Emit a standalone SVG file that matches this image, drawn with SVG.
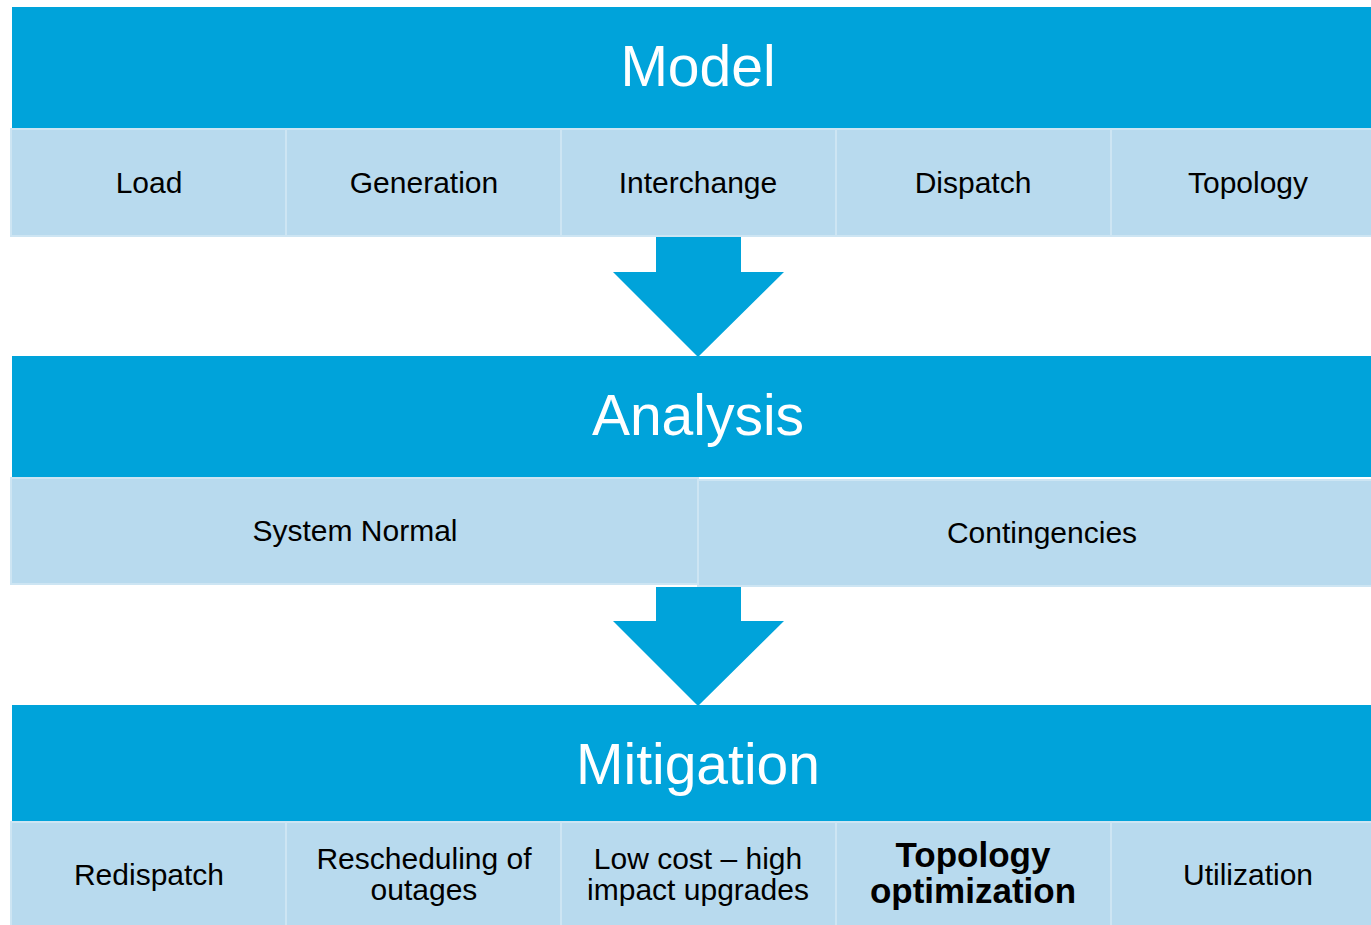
<svg xmlns="http://www.w3.org/2000/svg" width="1371" height="925" viewBox="0 0 1371 925">
<style>
.hdr{fill:#00A3DA}
.cell{fill:#B8DAEE;stroke:#CDE5F3;stroke-width:2}
.arrow{fill:#00A3DA}
.title{font-family:"Liberation Sans",Arial,sans-serif;font-size:57px;fill:#fff;text-anchor:middle}
.lbl{font-family:"Liberation Sans",Arial,sans-serif;font-size:30px;fill:#000;text-anchor:middle}
.bold{font-family:"Liberation Sans",Arial,sans-serif;font-size:35px;font-weight:bold;fill:#000;text-anchor:middle}
</style>
<rect width="1371" height="925" fill="#fff"/>
<g id="model">
<rect class="hdr" x="12" y="7" width="1359" height="121"/>
<text class="title" x="698" y="86">Model</text>
</g>
<g id="model-load"><rect class="cell" x="11" y="129" width="275" height="107"/><text class="lbl" x="149" y="193">Load</text></g>
<g id="model-generation"><rect class="cell" x="286" y="129" width="275" height="107"/><text class="lbl" x="424" y="193">Generation</text></g>
<g id="model-interchange"><rect class="cell" x="561" y="129" width="275" height="107"/><text class="lbl" x="698" y="193">Interchange</text></g>
<g id="model-dispatch"><rect class="cell" x="836" y="129" width="275" height="107"/><text class="lbl" x="973" y="193">Dispatch</text></g>
<g id="model-topology"><rect class="cell" x="1111" y="129" width="262" height="107"/><text class="lbl" x="1248" y="193">Topology</text></g>

<g id="analysis">
<rect class="hdr" x="12" y="356" width="1359" height="121"/>
<text class="title" x="698" y="435">Analysis</text>
</g>
<g id="analysis-normal"><rect class="cell" x="11" y="478" width="687" height="106"/><text class="lbl" x="355" y="541">System Normal</text></g>
<g id="analysis-contingencies"><rect class="cell" x="698" y="480" width="675" height="106"/><text class="lbl" x="1042" y="543">Contingencies</text></g>

<g id="mitigation">
<rect class="hdr" x="12" y="705" width="1359" height="116"/>
<text class="title" x="698" y="784">Mitigation</text>
</g>
<g id="mit-redispatch"><rect class="cell" x="11" y="822" width="275" height="105"/><text class="lbl" x="149" y="885">Redispatch</text></g>
<g id="mit-rescheduling"><rect class="cell" x="286" y="822" width="275" height="105"/><text class="lbl" x="424" y="869">Rescheduling of</text><text class="lbl" x="424" y="900">outages</text></g>
<g id="mit-lowcost"><rect class="cell" x="561" y="822" width="275" height="105"/><text class="lbl" x="698" y="869">Low cost – high</text><text class="lbl" x="698" y="900">impact upgrades</text></g>
<g id="mit-topology"><rect class="cell" x="836" y="822" width="275" height="105"/><text class="bold" x="973" y="867">Topology</text><text class="bold" x="973" y="903">optimization</text></g>
<g id="mit-utilization"><rect class="cell" x="1111" y="822" width="262" height="105"/><text class="lbl" x="1248" y="885">Utilization</text></g>

<g id="connectors">
<polygon class="arrow" points="656,237 741,237 741,272 784,272 698,357 613,272 656,272"/>
<polygon class="arrow" points="656,587 741,587 741,621 784,621 698,706 613,621 656,621"/>
</g>
</svg>
